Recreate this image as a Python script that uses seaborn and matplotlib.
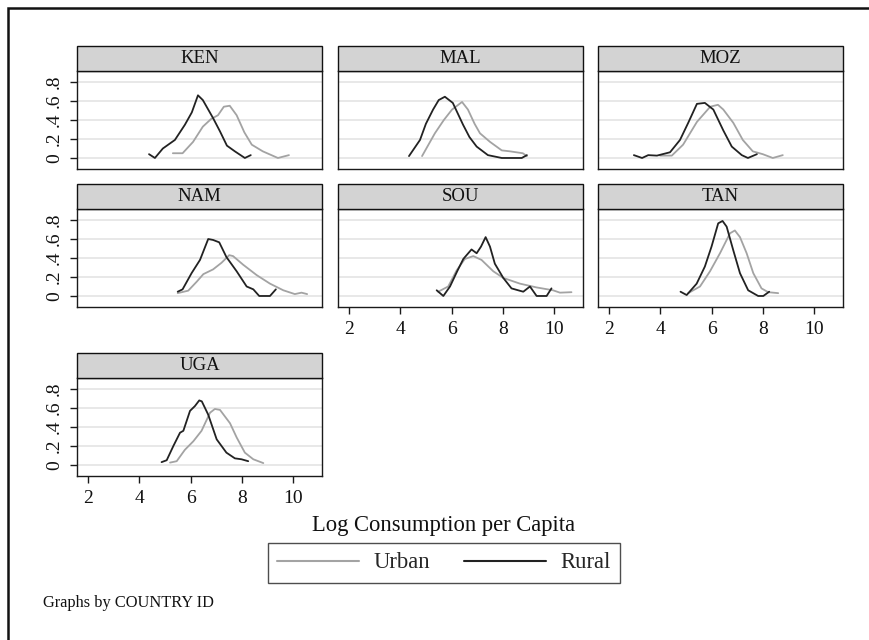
import matplotlib
matplotlib.use("Agg")
import matplotlib.pyplot as plt
from matplotlib.patches import Rectangle
from matplotlib.lines import Line2D
import pandas as pd
import seaborn as sns

# Panels, groups and axis ticks
COUNTRIES = ["KEN", "MAL", "MOZ", "NAM", "SOU", "TAN", "UGA"]
AREAS = ["Urban", "Rural"]
Y_TICKS = [0, 0.2, 0.4, 0.6, 0.8]
Y_TICK_LABELS = ["0", ".2", ".4", ".6", ".8"]
X_TICKS = [2, 4, 6, 8, 10]
X_TICK_LABELS = ["2", "4", "6", "8", "10"]

# Kernel density estimates of log consumption per capita
KEN_URBAN_X = [5.31, 5.69, 6.10, 6.48, 6.80, 7.07, 7.30, 7.53, 7.80, 8.10, 8.39, 8.82, 9.41, 9.84]
KEN_URBAN_Y = [0.05, 0.05, 0.17, 0.33, 0.41, 0.45, 0.54, 0.55, 0.45, 0.27, 0.14, 0.07, 0.00, 0.03]
KEN_RURAL_X = [4.38, 4.61, 4.92, 5.39, 5.78, 6.05, 6.29, 6.48, 6.88, 7.15, 7.42, 7.73, 8.12, 8.35]
KEN_RURAL_Y = [0.04, 0.00, 0.10, 0.19, 0.35, 0.48, 0.66, 0.61, 0.42, 0.28, 0.13, 0.07, 0.00, 0.03]

MAL_URBAN_X = [4.85, 5.35, 5.70, 6.02, 6.41, 6.64, 6.90, 7.11, 7.50, 7.96, 8.28, 8.78, 8.94]
MAL_URBAN_Y = [0.02, 0.26, 0.40, 0.51, 0.59, 0.51, 0.36, 0.26, 0.17, 0.08, 0.07, 0.05, 0.02]
MAL_RURAL_X = [4.34, 4.77, 5.00, 5.28, 5.50, 5.74, 6.05, 6.45, 6.70, 6.98, 7.42, 7.96, 8.74, 8.94]
MAL_RURAL_Y = [0.02, 0.19, 0.36, 0.51, 0.61, 0.645, 0.58, 0.35, 0.22, 0.12, 0.03, 0.00, 0.00, 0.03]

MOZ_URBAN_X = [3.99, 4.45, 4.89, 5.43, 5.95, 6.25, 6.46, 6.85, 7.22, 7.61, 8.00, 8.39, 8.78]
MOZ_URBAN_Y = [0.025, 0.025, 0.14, 0.38, 0.54, 0.56, 0.51, 0.37, 0.19, 0.07, 0.04, 0.00, 0.03]
MOZ_RURAL_X = [2.97, 3.29, 3.53, 3.87, 4.38, 4.77, 5.09, 5.43, 5.74, 6.07, 6.46, 6.79, 7.18, 7.42, 7.77]
MOZ_RURAL_Y = [0.03, 0.00, 0.03, 0.025, 0.06, 0.19, 0.37, 0.57, 0.58, 0.51, 0.29, 0.12, 0.03, 0.00, 0.04]

NAM_URBAN_X = [5.50, 5.91, 6.24, 6.50, 6.88, 7.21, 7.51, 7.66, 8.05, 8.58, 9.10, 9.62, 10.07, 10.33, 10.55]
NAM_URBAN_Y = [0.03, 0.056, 0.15, 0.23, 0.28, 0.35, 0.43, 0.42, 0.33, 0.22, 0.13, 0.06, 0.02, 0.035, 0.02]
NAM_RURAL_X = [5.50, 5.69, 6.04, 6.37, 6.69, 6.88, 7.12, 7.40, 7.80, 8.19, 8.45, 8.68, 9.10, 9.33]
NAM_RURAL_Y = [0.045, 0.07, 0.24, 0.38, 0.60, 0.59, 0.565, 0.41, 0.26, 0.10, 0.07, 0.00, 0.00, 0.07]

SOU_URBAN_X = [5.48, 5.87, 6.20, 6.52, 6.85, 7.17, 7.63, 8.02, 8.67, 9.32, 9.96, 10.23, 10.68]
SOU_URBAN_Y = [0.045, 0.10, 0.27, 0.39, 0.42, 0.38, 0.26, 0.19, 0.13, 0.09, 0.06, 0.035, 0.04]
SOU_RURAL_X = [5.42, 5.68, 5.94, 6.22, 6.46, 6.78, 6.98, 7.15, 7.33, 7.50, 7.69, 8.02, 8.34, 8.60, 8.80, 9.06, 9.32, 9.71, 9.90]
SOU_RURAL_Y = [0.06, 0.00, 0.10, 0.26, 0.39, 0.49, 0.45, 0.52, 0.62, 0.52, 0.34, 0.19, 0.08, 0.06, 0.045, 0.10, 0.00, 0.00, 0.08]

TAN_URBAN_X = [5.09, 5.55, 5.94, 6.33, 6.72, 6.91, 7.11, 7.37, 7.63, 7.95, 8.21, 8.60]
TAN_URBAN_Y = [0.03, 0.10, 0.26, 0.45, 0.66, 0.69, 0.62, 0.45, 0.24, 0.08, 0.04, 0.03]
TAN_RURAL_X = [4.79, 5.03, 5.42, 5.74, 6.00, 6.26, 6.43, 6.59, 6.85, 7.11, 7.43, 7.82, 8.02, 8.25]
TAN_RURAL_Y = [0.045, 0.01, 0.13, 0.31, 0.52, 0.765, 0.79, 0.73, 0.48, 0.24, 0.06, 0.00, 0.00, 0.045]

UGA_URBAN_X = [5.20, 5.46, 5.78, 6.11, 6.43, 6.76, 6.95, 7.15, 7.54, 7.80, 8.12, 8.45, 8.84]
UGA_URBAN_Y = [0.025, 0.04, 0.16, 0.25, 0.36, 0.55, 0.59, 0.58, 0.44, 0.29, 0.13, 0.06, 0.02]
UGA_RURAL_X = [4.87, 5.07, 5.33, 5.59, 5.72, 5.98, 6.17, 6.34, 6.44, 6.69, 7.02, 7.40, 7.73, 7.99, 8.25]
UGA_RURAL_Y = [0.03, 0.05, 0.20, 0.34, 0.36, 0.57, 0.62, 0.68, 0.67, 0.53, 0.27, 0.13, 0.07, 0.06, 0.04]

CURVES = {
    ("KEN", "Urban"): (KEN_URBAN_X, KEN_URBAN_Y), ("KEN", "Rural"): (KEN_RURAL_X, KEN_RURAL_Y),
    ("MAL", "Urban"): (MAL_URBAN_X, MAL_URBAN_Y), ("MAL", "Rural"): (MAL_RURAL_X, MAL_RURAL_Y),
    ("MOZ", "Urban"): (MOZ_URBAN_X, MOZ_URBAN_Y), ("MOZ", "Rural"): (MOZ_RURAL_X, MOZ_RURAL_Y),
    ("NAM", "Urban"): (NAM_URBAN_X, NAM_URBAN_Y), ("NAM", "Rural"): (NAM_RURAL_X, NAM_RURAL_Y),
    ("SOU", "Urban"): (SOU_URBAN_X, SOU_URBAN_Y), ("SOU", "Rural"): (SOU_RURAL_X, SOU_RURAL_Y),
    ("TAN", "Urban"): (TAN_URBAN_X, TAN_URBAN_Y), ("TAN", "Rural"): (TAN_RURAL_X, TAN_RURAL_Y),
    ("UGA", "Urban"): (UGA_URBAN_X, UGA_URBAN_Y), ("UGA", "Rural"): (UGA_RURAL_X, UGA_RURAL_Y),
}

records = []
for (country, area), (xs, ys) in CURVES.items():
    for i, (xv, yv) in enumerate(zip(xs, ys)):
        records.append({"country": country, "area": area, "order": i, "x": xv, "density": yv})
df = pd.DataFrame(records)

URBAN_COLOR = "#a3a3a3"
RURAL_COLOR = "#222222"
PALETTE = {"Urban": URBAN_COLOR, "Rural": RURAL_COLOR}

sns.set_theme(style="white")
plt.rcParams["font.family"] = ["Liberation Serif", "DejaVu Serif"]

W, H = 869, 640
g = sns.FacetGrid(df, col="country", col_order=COUNTRIES, col_wrap=3,
                  hue="area", hue_order=AREAS, palette=PALETTE,
                  sharex=True, sharey=True, despine=False, height=2, aspect=2.5)
g.map_dataframe(sns.lineplot, x="x", y="density", sort=False, estimator=None,
                linewidth=1.3)

fig = g.figure
fig.set_size_inches(W / 100, H / 100)
fig.set_dpi(100)

# panel geometry in pixels
col_left = [77, 338, 598]
row_top = [71, 209, 378]
ax_w, ax_h = 245, 98
strip_h = 25

left_idx = {0, 3, 6}
bottom_idx = {4, 5, 6}

for i, (ax, name) in enumerate(zip(g.axes.flat, COUNTRIES)):
    r, c = divmod(i, 3)
    ax.set_position([col_left[c] / W, 1 - (row_top[r] + ax_h) / H, ax_w / W, ax_h / H])
    ax.set_xlim(1.57, 11.13)
    ax.set_ylim(-0.116, 0.916)
    ax.set_title("")
    ax.set_xlabel("")
    ax.set_ylabel("")
    ax.set_facecolor("white")
    ax.set_yticks(Y_TICKS)
    ax.set_yticklabels(Y_TICK_LABELS, rotation=90, va="center", fontsize=14)
    ax.set_xticks(X_TICKS)
    ax.set_xticklabels(X_TICK_LABELS, fontsize=14)
    ax.yaxis.grid(True, color="#e2e2e2", linewidth=1.1)
    ax.xaxis.grid(False)
    ax.set_axisbelow(True)
    for sp in ax.spines.values():
        sp.set_visible(True)
        sp.set_color("#1a1a1a")
        sp.set_linewidth(1.0)
    ax.tick_params(axis="both", direction="out", length=5, width=1, color="#1a1a1a",
                   labelcolor="#111111")
    ax.tick_params(axis="x", pad=5)
    ax.tick_params(axis="y", pad=5)
    ax.tick_params(left=(i in left_idx), labelleft=(i in left_idx),
                   bottom=(i in bottom_idx), labelbottom=(i in bottom_idx))
    # header strip with the country id
    ax.add_patch(Rectangle((0, 1), 1, strip_h / ax_h, transform=ax.transAxes,
                           facecolor="#d3d3d3", edgecolor="#111111", linewidth=1.0,
                           clip_on=False, zorder=5))
    ax.text(0.5, 1 + (strip_h / 2) / ax_h, name, transform=ax.transAxes,
            ha="center", va="center", fontsize=13.5, color="#111111", zorder=6)

fig.text(444 / W, 1 - 525 / H, "Log Consumption per Capita", ha="center", va="center",
         fontsize=16.3, color="#111111")

handles = [Line2D([], [], color=URBAN_COLOR, linewidth=1.5),
           Line2D([], [], color=RURAL_COLOR, linewidth=1.5)]
leg = fig.legend(handles, AREAS, loc="center", bbox_to_anchor=(444 / W, 1 - 563 / H),
                 ncol=2, frameon=True, fancybox=False, edgecolor="#222222",
                 fontsize=16.3, handlelength=3.6, handletextpad=0.65, columnspacing=1.5,
                 borderpad=0.4, borderaxespad=0)
leg.get_frame().set_linewidth(1.0)

fig.text(43 / W, 1 - 603 / H, "Graphs by COUNTRY ID", ha="left", va="center",
         fontsize=11.8, color="#111111")

# outer frame of the graph region
fig.add_artist(Rectangle((8 / W, -0.5), 2.0, 1 - 8 / H + 0.5, transform=fig.transFigure,
                         fill=False, edgecolor="#111111", linewidth=1.8, clip_on=False))

fig.savefig("out.png", dpi=100)
